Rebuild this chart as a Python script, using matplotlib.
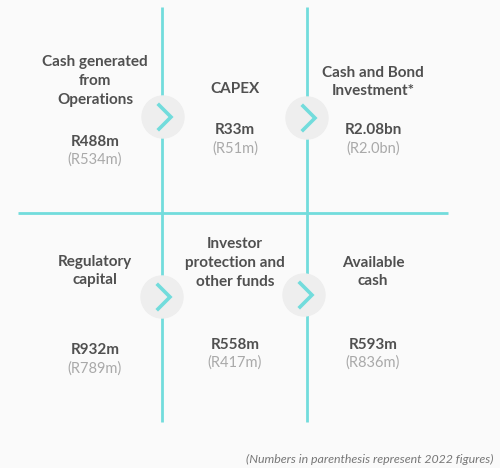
import matplotlib.pyplot as plt
from matplotlib.patches import Circle

# chart content
titles = ["Cash generated\nfrom\nOperations", "CAPEX", "Cash and Bond\nInvestment*",
          "Regulatory\ncapital", "Investor\nprotection and\nother funds", "Available\ncash"]
values = ["R488m", "R33m", "R2.08bn", "R932m", "R558m", "R593m"]
previous = ["(R534m)", "(R51m)", "(R2.0bn)", "(R789m)", "(R417m)", "(R836m)"]
footnote = "(Numbers in parenthesis represent 2022 figures)"

plt.rcParams['font.family'] = ['Lato', 'DejaVu Sans']

teal = "#72dcdc"
dark = "#505050"
grey = "#a9a9a9"

fig = plt.figure(figsize=(5.0, 4.68), dpi=100, facecolor="#fafafa")
ax = fig.add_axes([0, 0, 1, 1])
ax.set_xlim(0, 500)
ax.set_ylim(468, 0)
ax.axis("off")

# grid lines
for xv in (162, 307):
    ax.plot([xv, xv], [7, 422], color=teal, lw=2, solid_capstyle="butt", zorder=1)
ax.plot([18, 448], [213, 213], color=teal, lw=2, solid_capstyle="butt", zorder=1)

# arrow bubbles between columns
for cx, cy in [(163, 117), (307, 118), (162, 297), (304, 295)]:
    ax.add_patch(Circle((cx, cy), 21, color="#eeeeee", zorder=2))
    ax.plot([cx - 4, cx + 8, cx - 4], [cy - 12, cy, cy + 12], color=teal,
            lw=2.6, solid_joinstyle="miter", zorder=3)

col_x = [95, 235, 373]
# title centre y, value y, previous y for each box
title_y = [81, 89, 82, 271, 263, 272]
value_y = [142, 130, 130, 350, 345, 345]
prev_y = [160, 149, 149, 369, 363, 363]

for i in range(6):
    x = col_x[i % 3]
    ax.text(x, title_y[i], titles[i], ha="center", va="center", fontsize=11,
            fontweight="bold", color=dark, linespacing=1.45)
    ax.text(x, value_y[i], values[i], ha="center", va="center", fontsize=11,
            fontweight="bold", color=dark)
    ax.text(x, prev_y[i], previous[i], ha="center", va="center", fontsize=10.5,
            color=grey)

ax.text(493, 459, footnote, ha="right", va="center", fontsize=8.9, style="italic",
        color="#777777")

fig.savefig("out.png", dpi=100, facecolor=fig.get_facecolor())
